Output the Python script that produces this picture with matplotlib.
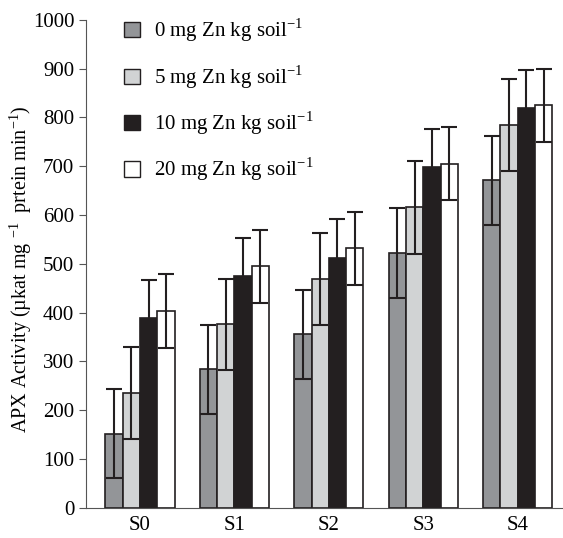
import numpy as np
import matplotlib.pyplot as plt
from matplotlib import rcParams
from matplotlib.patches import Patch

rcParams['font.family'] = ['Liberation Serif', 'DejaVu Serif']
rcParams['mathtext.fontset'] = 'custom'
rcParams['mathtext.rm'] = 'Liberation Serif'

# 数据
groups = ['S0', 'S1', 'S2', 'S3', 'S4']
labels = ['0 mg Zn kg soil$^{\\mathdefault{-1}}$', '5 mg Zn kg soil$^{\\mathdefault{-1}}$',
          '10 mg Zn kg soil$^{\\mathdefault{-1}}$', '20 mg Zn kg soil$^{\\mathdefault{-1}}$']

zn0 = [152, 284, 356, 522, 671]
zn5 = [235, 376, 469, 616, 784]
zn10 = [389, 476, 512, 698, 820]
zn20 = [404, 495, 532, 705, 825]

err0 = [91, 91, 91, 92, 91]
err5 = [94, 94, 94, 95, 94]
err10 = [78, 78, 79, 79, 78]
err20 = [76, 75, 75, 75, 75]

values = [zn0, zn5, zn10, zn20]
errors = [err0, err5, err10, err20]
colors = ['#939598', '#d1d3d4', '#231f20', '#ffffff']
dark = '#231f20'

fig = plt.figure(figsize=(5.63, 5.38), dpi=100)
ax = fig.add_axes([0.153, 0.056, 0.847, 0.907])

x = np.arange(len(groups))
w = 0.183
for i in range(4):
    ax.bar(x + (i - 1.5) * w, values[i], w, color=colors[i], edgecolor=dark,
           linewidth=1.2, zorder=2)
for i in range(4):
    ax.errorbar(x + (i - 1.5) * w, values[i], yerr=errors[i], fmt='none',
                ecolor=dark, elinewidth=1.5, capsize=5.5, capthick=1.5, zorder=3)

ax.set_xlim(-0.57, 4.48)
ax.set_ylim(0, 1000)
ax.set_yticks(range(0, 1001, 100))
ax.set_xticks(x)
ax.set_xticklabels(groups, fontsize=15)
ax.tick_params(axis='x', length=0, pad=6)
ax.tick_params(axis='y', labelsize=15, length=5, color='#555555', direction='out')
for s in ['top', 'right']:
    ax.spines[s].set_visible(False)
ax.spines['left'].set_color('#555555')
ax.spines['bottom'].set_color('#555555')

# y轴标签
fig.text(0.036, 0.5, 'APX Activity (µkat mg $^{\\mathdefault{-1}}$  prtein min$^{\\mathdefault{-1}}$)',
         fontsize=14.5, rotation=90, ha='center', va='center')

handles = [Patch(facecolor=colors[i], edgecolor=dark, linewidth=1.0) for i in range(4)]
ax.legend(handles, labels, loc='upper left', bbox_to_anchor=(0.04, 1.045), frameon=False,
          fontsize=15, handlelength=0.75, handleheight=0.75, labelspacing=0.9,
          handletextpad=0.7)

plt.savefig('out.png', dpi=100)
